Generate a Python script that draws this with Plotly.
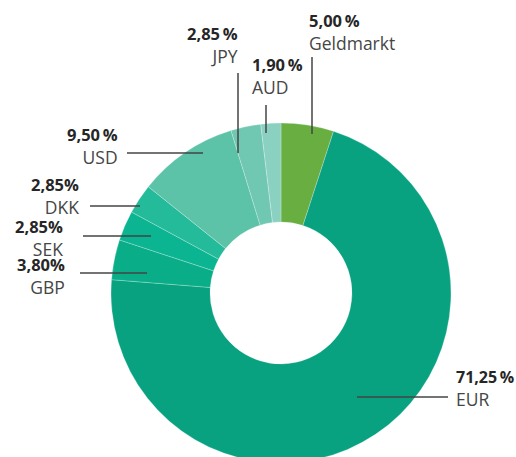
import plotly.graph_objects as go

# Body margin is removed by post_script, so figure coords = reference px
W, H = 516, 464
OFF = 0

# Data
labels = ["Geldmarkt", "EUR", "GBP", "SEK", "DKK", "USD", "JPY", "AUD"]
values = [5.00, 71.25, 3.80, 2.85, 2.85, 9.50, 2.85, 1.90]
pct_text = ["5,00 %", "71,25 %", "3,80%", "2,85%", "2,85%", "9,50 %", "2,85 %", "1,90 %"]
colors = ["#69ae40", "#08a281", "#09ae88", "#0bb592", "#24bb9a", "#5cc2a8", "#70c8b3", "#8ad1c1"]

# Label layout (reference pixels): anchor side, x, y of pct line, y of name line
label_pos = {
    "Geldmarkt": ("left", 308, 21, 43),
    "AUD": ("left", 251, 65, 86),
    "JPY": ("right", 239, 35, 56),
    "USD": ("right", 119, 135, 157),
    "DKK": ("right", 80, 186, 206),
    "SEK": ("right", 64, 228, 248),
    "GBP": ("right", 66, 265, 286),
    "EUR": ("left", 455, 378, 399),
}
leader_lines = {
    "Geldmarkt": (312, 57, 312, 134),
    "AUD": (266, 105, 266, 133),
    "JPY": (238, 73, 238, 153),
    "USD": (127, 153, 203, 153),
    "DKK": (90, 206, 140, 206),
    "SEK": (83, 236, 151, 236),
    "GBP": (80, 273, 147, 273),
    "EUR": (357, 397, 448, 397),
}

def px(x):
    return (x - OFF) / W

def py(y):
    return 1 - (y - OFF) / H

cx, cy, r, r_in = 281, 293, 170, 71

fig = go.Figure(go.Pie(
    labels=labels,
    values=values,
    sort=False,
    direction="clockwise",
    rotation=0,
    hole=r_in / r,
    marker=dict(colors=colors, line=dict(color="rgba(255,255,255,0.35)", width=0.7)),
    textinfo="none",
    hoverinfo="label+percent",
    showlegend=False,
    domain=dict(x=[px(cx - r), px(cx + r)], y=[py(cy + r), py(cy - r)]),
))

FONT = "Open Sans"
annotations = []
for lab, pt in zip(labels, pct_text):
    side, x, yp, yn = label_pos[lab]
    pt_html = pt.replace(" ", "\u2009")
    size = 16 if lab == "EUR" else 16.5
    txt = ("<span style='color:#262626;font-size:%spx'><b>" % size + pt_html + "</b></span><br>" + lab)
    annotations.append(dict(
        x=px(x), y=py((yp + yn) / 2), xref="paper", yref="paper",
        xanchor=side, yanchor="middle", align=side,
        text=txt, showarrow=False, borderpad=0,
        font=dict(family=FONT, size=17.5, color="#454545"),
    ))

shapes = []
for lab in labels:
    x0, y0, x1, y1 = leader_lines[lab]
    shapes.append(dict(type="line", xref="paper", yref="paper",
                       x0=px(x0), y0=py(y0), x1=px(x1), y1=py(y1),
                       line=dict(color="#454545", width=1.5)))

fig.update_layout(
    width=W, height=H,
    margin=dict(l=0, r=0, t=0, b=0),
    paper_bgcolor="white",
    plot_bgcolor="white",
    annotations=annotations,
    shapes=shapes,
)

fig.write_html(
    "out.html",
    config={"displayModeBar": False},
    post_script="document.body.style.margin='0';document.body.style.overflow='hidden';",
)
